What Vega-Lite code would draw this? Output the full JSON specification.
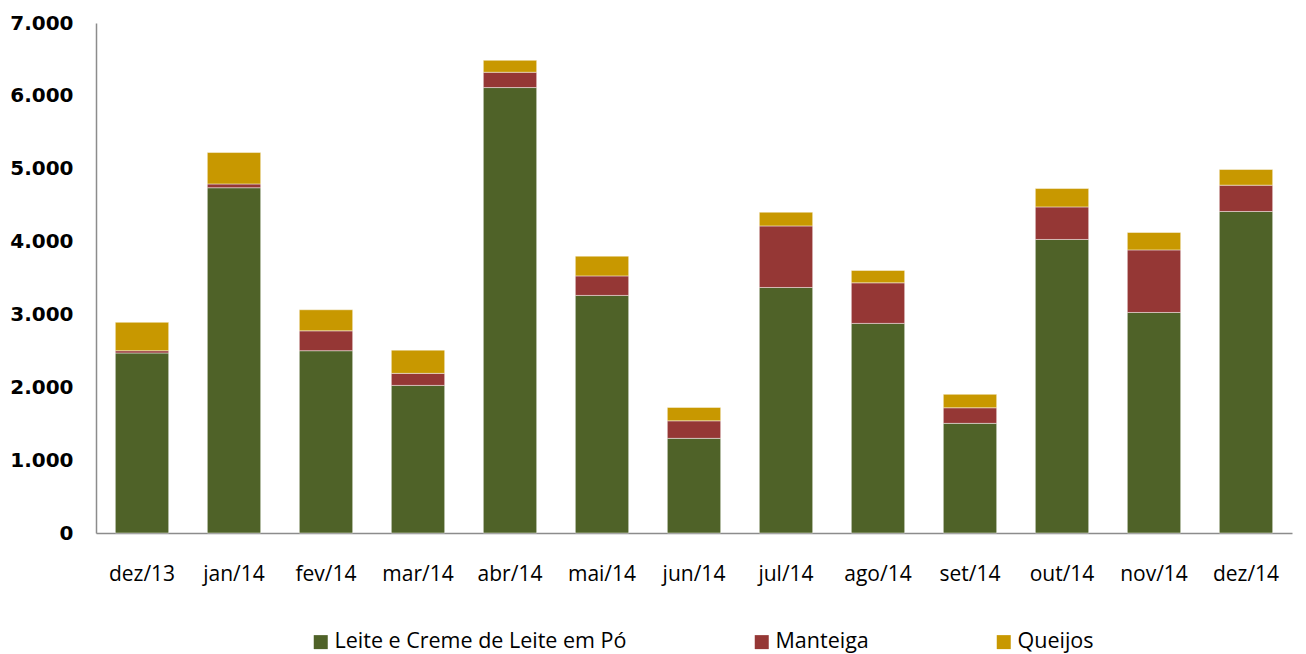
{
  "$schema": "https://vega.github.io/schema/vega-lite/v6.json",
  "autosize": {"type": "none"},
  "width": 1196,
  "height": 510,
  "padding": {"left": 96, "top": 23, "right": 14, "bottom": 121},
  "background": "#ffffff",
  "config": {"view": {"stroke": null}},
  "data": {
    "values": [
      {"mes": "dez/13", "produto": "Leite e Creme de Leite em Pó", "valor": 2471},
      {"mes": "dez/13", "produto": "Manteiga", "valor": 31},
      {"mes": "dez/13", "produto": "Queijos", "valor": 390},
      {"mes": "jan/14", "produto": "Leite e Creme de Leite em Pó", "valor": 4739},
      {"mes": "jan/14", "produto": "Manteiga", "valor": 52},
      {"mes": "jan/14", "produto": "Queijos", "valor": 431},
      {"mes": "fev/14", "produto": "Leite e Creme de Leite em Pó", "valor": 2502},
      {"mes": "fev/14", "produto": "Manteiga", "valor": 273},
      {"mes": "fev/14", "produto": "Queijos", "valor": 289},
      {"mes": "mar/14", "produto": "Leite e Creme de Leite em Pó", "valor": 2026},
      {"mes": "mar/14", "produto": "Manteiga", "valor": 165},
      {"mes": "mar/14", "produto": "Queijos", "valor": 319},
      {"mes": "abr/14", "produto": "Leite e Creme de Leite em Pó", "valor": 6114},
      {"mes": "abr/14", "produto": "Manteiga", "valor": 210},
      {"mes": "abr/14", "produto": "Queijos", "valor": 164},
      {"mes": "mai/14", "produto": "Leite e Creme de Leite em Pó", "valor": 3261},
      {"mes": "mai/14", "produto": "Manteiga", "valor": 268},
      {"mes": "mai/14", "produto": "Queijos", "valor": 271},
      {"mes": "jun/14", "produto": "Leite e Creme de Leite em Pó", "valor": 1299},
      {"mes": "jun/14", "produto": "Manteiga", "valor": 241},
      {"mes": "jun/14", "produto": "Queijos", "valor": 184},
      {"mes": "jul/14", "produto": "Leite e Creme de Leite em Pó", "valor": 3370},
      {"mes": "jul/14", "produto": "Manteiga", "valor": 845},
      {"mes": "jul/14", "produto": "Queijos", "valor": 188},
      {"mes": "ago/14", "produto": "Leite e Creme de Leite em Pó", "valor": 2877},
      {"mes": "ago/14", "produto": "Manteiga", "valor": 557},
      {"mes": "ago/14", "produto": "Queijos", "valor": 170},
      {"mes": "set/14", "produto": "Leite e Creme de Leite em Pó", "valor": 1505},
      {"mes": "set/14", "produto": "Manteiga", "valor": 214},
      {"mes": "set/14", "produto": "Queijos", "valor": 184},
      {"mes": "out/14", "produto": "Leite e Creme de Leite em Pó", "valor": 4029},
      {"mes": "out/14", "produto": "Manteiga", "valor": 447},
      {"mes": "out/14", "produto": "Queijos", "valor": 252},
      {"mes": "nov/14", "produto": "Leite e Creme de Leite em Pó", "valor": 3027},
      {"mes": "nov/14", "produto": "Manteiga", "valor": 859},
      {"mes": "nov/14", "produto": "Queijos", "valor": 239},
      {"mes": "dez/14", "produto": "Leite e Creme de Leite em Pó", "valor": 4413},
      {"mes": "dez/14", "produto": "Manteiga", "valor": 361},
      {"mes": "dez/14", "produto": "Queijos", "valor": 215}
    ]
  },
  "mark": {"type": "bar", "stroke": "#ffffff", "strokeOpacity": 0.45, "strokeWidth": 1},
  "encoding": {
    "x": {
      "field": "mes",
      "type": "nominal",
      "sort": null,
      "scale": {"paddingInner": 0.42, "paddingOuter": 0.21},
      "axis": {
        "title": null,
        "labelAngle": 0,
        "ticks": false,
        "domainColor": "#8c8c8c",
        "domainWidth": 1.5,
        "labelFont": "Open Sans",
        "labelFontSize": 21,
        "labelColor": "#000000",
        "labelPadding": 30
      }
    },
    "y": {
      "field": "valor",
      "type": "quantitative",
      "stack": "zero",
      "scale": {"domain": [0, 7000], "nice": false},
      "axis": {
        "title": null,
        "values": [0, 1000, 2000, 3000, 4000, 5000, 6000, 7000],
        "labelExpr": "replace(format(datum.value, ','), ',', '.')",
        "ticks": false,
        "grid": false,
        "domainColor": "#8c8c8c",
        "domainWidth": 1.5,
        "labelFont": "DejaVu Sans",
        "labelFontWeight": "bold",
        "labelFontSize": 20,
        "labelColor": "#000000",
        "labelPadding": 23
      }
    },
    "order": {"field": "produto", "sort": "ascending"},
    "color": {
      "field": "produto",
      "type": "nominal",
      "scale": {
        "domain": ["Leite e Creme de Leite em Pó", "Manteiga", "Queijos"],
        "range": ["#4F6228", "#953735", "#C89800"]
      },
      "legend": {
        "title": null,
        "orient": "none",
        "legendX": 214,
        "legendY": 608,
        "direction": "horizontal",
        "columnPadding": 124,
        "symbolType": "square",
        "symbolSize": 196,
        "symbolStrokeWidth": 0,
        "symbolOffset": 0,
        "labelFont": "Open Sans",
        "labelFontSize": 21.5,
        "labelLimit": 500,
        "labelColor": "#000000",
        "labelOffset": 3
      }
    }
  }
}
